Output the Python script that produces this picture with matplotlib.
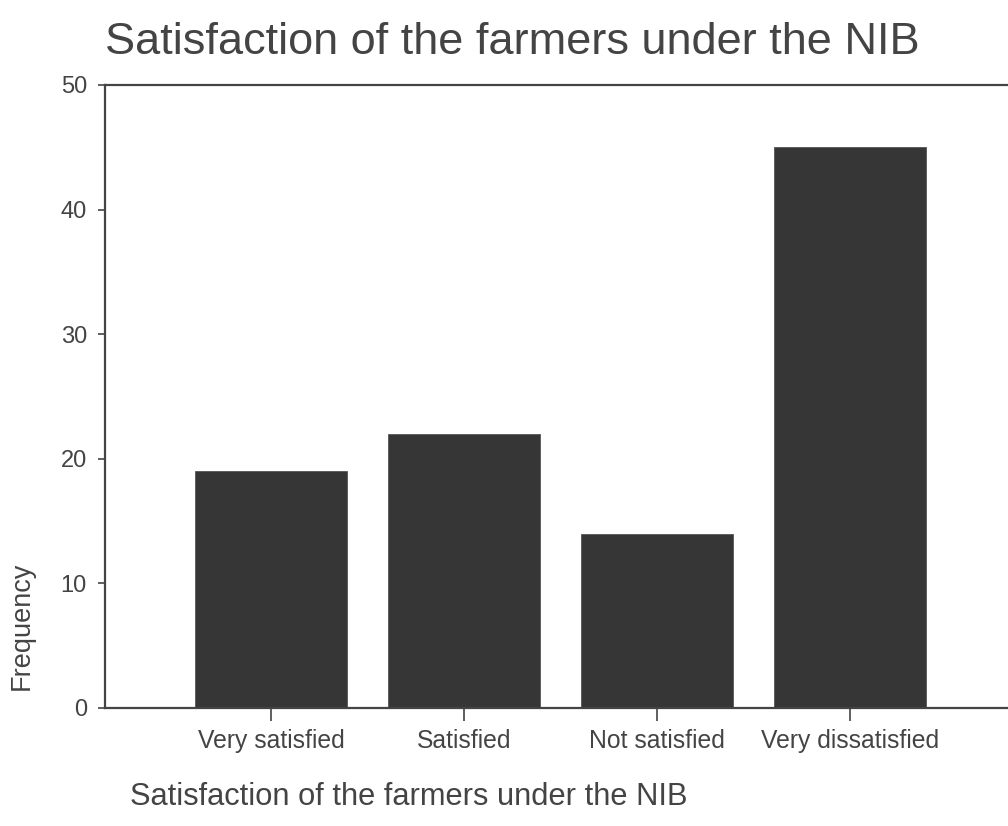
import matplotlib.pyplot as plt

categories = ["Very satisfied", "Satisfied", "Not satisfied", "Very dissatisfied"]
frequency = [19, 22, 14, 45]
y_ticks = [0, 10, 20, 30, 40, 50]

plt.rcParams['font.family'] = ['Liberation Sans', 'DejaVu Sans']
text_col = '#444444'

fig = plt.figure(figsize=(10.08, 8.26), dpi=100)
ax = fig.add_axes([0.1042, 0.1429, 0.8958, 0.7542])

x = list(range(len(categories)))
ax.bar(x, frequency, width=0.79, color='#363636', edgecolor='#555555', linewidth=0.6)

ax.set_xlim(-0.86, 3.82)
ax.set_ylim(0, 50)
ax.set_yticks(y_ticks)
ax.set_xticks(x)
ax.set_xticklabels(categories)

for side in ['left', 'bottom', 'top']:
    ax.spines[side].set_color('#444444')
    ax.spines[side].set_linewidth(1.6)
ax.spines['right'].set_visible(False)

ax.tick_params(axis='y', length=5, width=1.2, colors='#444444', labelsize=17, pad=8)
ax.tick_params(axis='x', length=9, width=1.2, colors='#444444', labelsize=17.8, pad=6)
for lbl in ax.get_xticklabels() + ax.get_yticklabels():
    lbl.set_color(text_col)

# title, axis labels placed like the original
fig.text(0.1042, 0.948, "Satisfaction of the farmers under the NIB",
         fontsize=32.5, color=text_col, ha='left', va='center')
fig.text(0.129, 0.035, "Satisfaction of the farmers under the NIB",
         fontsize=22.2, color=text_col, ha='left', va='center')
fig.text(0.022, 0.242, "Frequency", fontsize=19.5, color=text_col,
         rotation=90, ha='center', va='center')

fig.savefig('out.png', dpi=100)
